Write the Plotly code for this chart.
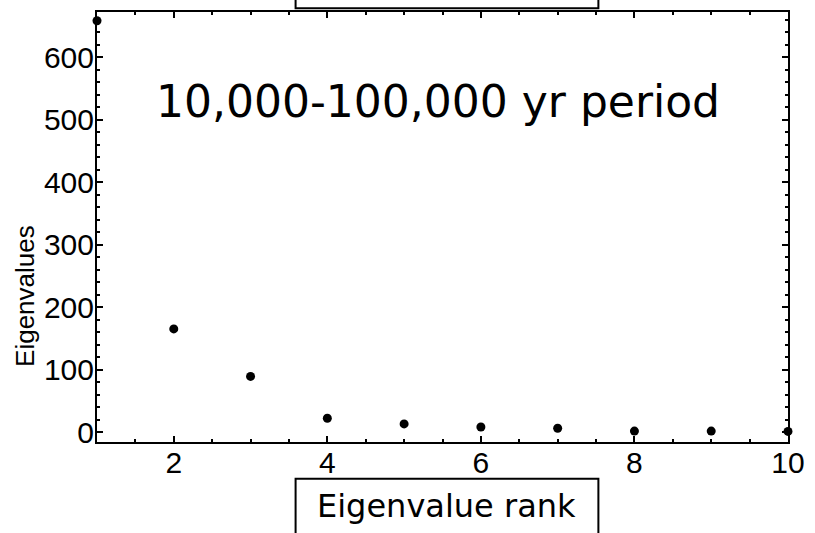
import plotly.graph_objects as go

# Eigenvalue spectrum, ranks 1-10
rank = [1, 2, 3, 4, 5, 6, 7, 8, 9, 10]
eigenvalues = [658, 165, 89, 22, 13, 8, 6, 1.5, 1.5, 1]

x_ticks = [2, 4, 6, 8, 10]
y_ticks = [0, 100, 200, 300, 400, 500, 600]

fig = go.Figure()
fig.add_trace(go.Scatter(
    x=rank, y=eigenvalues, mode="markers",
    marker=dict(color="black", size=9),
    cliponaxis=False, showlegend=False,
))

axis_common = dict(
    showline=True, linecolor="black", linewidth=2, mirror="ticks",
    ticks="inside", ticklen=6, tickwidth=2, tickcolor="black",
    showgrid=False, zeroline=False,
    tickfont=dict(family="Liberation Sans", size=30, color="black"),
)

fig.update_xaxes(
    range=[1, 10], tickvals=x_ticks, ticklabelstandoff=-7,
    minor=dict(dtick=0.5, ticks="inside", ticklen=3, tickwidth=1.5, tickcolor="black"),
    **axis_common,
)
fig.update_yaxes(
    range=[-16, 672], tickvals=y_ticks, ticklabelstandoff=-5,
    minor=dict(dtick=20, tick0=0, ticks="inside", ticklen=3, tickwidth=1.5, tickcolor="black"),
    **axis_common,
)

# Framed labels above and below the plot
fig.add_shape(type="rect", xref="paper", yref="paper",
              x0=0.2874, x1=0.7256, y0=1.009, y1=1.2,
              line=dict(color="black", width=2), fillcolor="white")
fig.add_shape(type="rect", xref="paper", yref="paper",
              x0=0.2874, x1=0.7256, y0=-0.0856, y1=-0.4,
              line=dict(color="black", width=2), fillcolor="white")

fig.add_annotation(text="Eigenvalue rank", xref="paper", yref="paper",
                   x=0.5057, y=-0.15, showarrow=False, yanchor="middle",
                   font=dict(family="DejaVu Sans", size=32, color="black"))
fig.add_annotation(text="10,000-100,000 yr period", xref="paper", yref="paper",
                   x=0.494, y=0.792, showarrow=False, yanchor="middle",
                   font=dict(family="DejaVu Sans", size=44, color="black"))
fig.add_annotation(text="Eigenvalues", xref="paper", yref="paper",
                   x=-0.104, y=0.34, showarrow=False, textangle=-90,
                   xanchor="center", yanchor="middle",
                   font=dict(family="Liberation Sans", size=26, color="black"))

fig.update_layout(
    width=815, height=533,
    margin=dict(l=97, r=22, t=10, b=91),
    paper_bgcolor="white", plot_bgcolor="white",
)

fig.write_html("out.html")
